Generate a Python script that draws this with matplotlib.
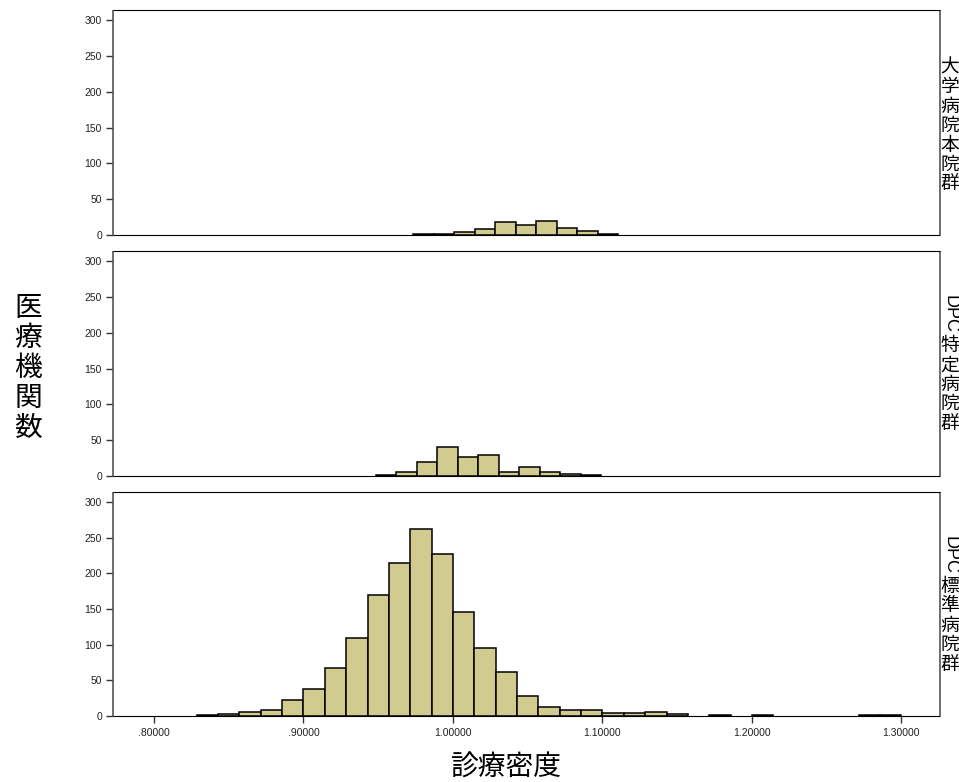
import numpy as np
import matplotlib
matplotlib.use("Agg")
import matplotlib.pyplot as plt

# ---------------- data ----------------

# top panel: 大学病院本院群
univ_start = 0.9735
univ_width = 0.0137
univ_counts = [1, 1, 4, 8, 18, 14, 19, 10, 5, 2]

# middle panel: DPC特定病院群
spec_start = 0.9485
spec_width = 0.0137
spec_counts = [2, 5, 19, 40, 26, 30, 6, 13, 6, 3, 1]

# bottom panel: DPC標準病院群 (bins of 1/70 starting at 0.9 - 5/70)
std_start = 0.9 - 5 / 70
std_width = 1 / 70
std_counts = [1, 3, 5, 8, 22, 38, 67, 109, 170, 214, 262, 227,
              146, 95, 62, 28, 12, 8, 8, 4, 4, 5, 3, 0, 2, 0, 1,
              0, 0, 0, 0, 1, 1]

panel_names = [("", "大学病院本院群"), ("DPC", "特定病院群"), ("DPC", "標準病院群")]
xticks = [0.8, 0.9, 1.0, 1.1, 1.2, 1.3]
xtick_labels = [".80000", ".90000", "1.00000", "1.10000", "1.20000", "1.30000"]
yticks = [0, 50, 100, 150, 200, 250, 300]

bar_color = "#d2cb8f"
cjk = ["Noto Sans CJK JP", "DejaVu Sans"]

fig = plt.figure(figsize=(9.59, 7.82), dpi=100)
left, width = 113 / 959, (940 - 113) / 959
tops = [10, 251, 492]
bottoms = [235, 476, 716]

series = [(univ_start, univ_width, univ_counts),
          (spec_start, spec_width, spec_counts),
          (std_start, std_width, std_counts)]

for i, ((start, w, counts), (tag, name)) in enumerate(zip(series, panel_names)):
    b = 1 - bottoms[i] / 782
    ph = bottoms[i] - tops[i]
    ax = fig.add_axes([left, b, width, ph / 782])
    counts = np.asarray(counts)
    edges = start + w * np.arange(len(counts))
    keep = counts > 0  # empty bins draw nothing
    ax.bar(edges[keep], counts[keep], width=w, align="edge", color=bar_color,
           edgecolor="black", linewidth=1.1)
    ax.set_xlim(0.7726, 1.3258)
    ax.set_ylim(0, 314)
    ax.set_yticks(yticks)
    ax.set_yticklabels([str(v) for v in yticks], fontsize=7.5,
                       family="Liberation Sans", color="#222222")
    ax.tick_params(axis="y", length=5, width=1, color="#333333", pad=3)
    for s in ("top", "bottom"):
        ax.spines[s].set_color("black")
    for s in ("left", "right"):
        ax.spines[s].set_color("#555555")
        ax.spines[s].set_linewidth(1.2)
    for sp in ax.spines.values():
        sp.set_capstyle("butt")
    if i < 2:
        ax.set_xticks([])
    else:
        ax.set_xticks(xticks)
        ax.set_xticklabels(xtick_labels, fontsize=7.5,
                           family="Liberation Sans", color="#222222")
        ax.tick_params(axis="x", length=5, width=1, color="#333333", pad=4)

    # panel label on the right: "DPC" rotated, kanji stacked upright
    stacked = "\n".join(name)
    if tag:
        ax.text(1.002, 1 - 44 / ph, tag, rotation=-90,
                transform=ax.transAxes, ha="left", va="top",
                fontsize=13, family="Liberation Sans")
        ax.text(1.0005, 1 - 84 / ph, stacked,
                transform=ax.transAxes, ha="left", va="top",
                fontsize=13.5, family=cjk, linespacing=0.9)
    else:
        ax.text(1.0005, 1 - 47 / ph, stacked,
                transform=ax.transAxes, ha="left", va="top",
                fontsize=13.5, family=cjk, linespacing=0.9)

fig.text(28 / 959, 1 - 368 / 782, "\n".join("医療機関数"), ha="center",
         va="center", fontsize=20, family=cjk, linespacing=1.0)
fig.text(506 / 959, 1 - 768 / 782, "診療密度", ha="center", va="center",
         fontsize=20, family=cjk)

fig.savefig("out.png", dpi=100)
